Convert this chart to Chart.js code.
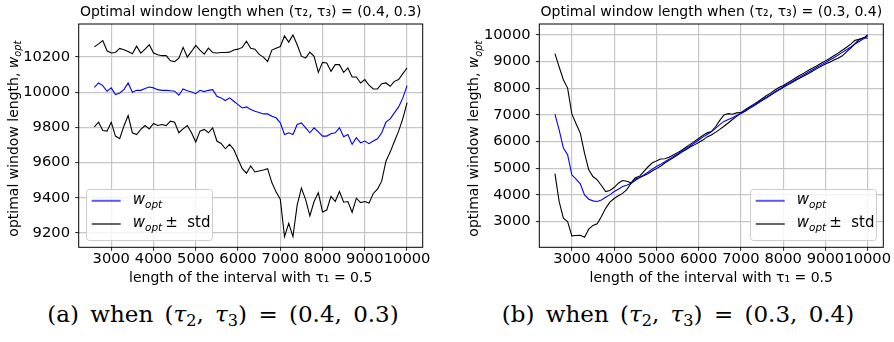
<!DOCTYPE html>
<html>
<head>
<meta charset="utf-8">
<script src="https://cdn.jsdelivr.net/npm/chart.js@4.4.0/dist/chart.umd.min.js"></script>
<style>
  body { margin: 0; background: #fff; width: 894px; height: 342px; position: relative; overflow: hidden; }
  canvas { position: absolute; top: 0; }
  #chartA { left: 0; }
  #chartB { left: 450px; }
  .cap {
    position: absolute; top: 301px; width: 440px; text-align: center; white-space: nowrap;
    font-family: "DejaVu Serif", "Liberation Serif", serif; font-size: 23px; word-spacing: 4px; color: #000;
  }
  .cap sub { font-size: 0.7em; vertical-align: -0.25em; line-height: 0; }
</style>
</head>
<body>
<canvas id="chartA" width="440" height="290" style="width:440px;height:290px"></canvas>
<canvas id="chartB" width="444" height="290" style="width:444px;height:290px"></canvas>
<div class="cap" style="left:3px">(a) when (<i>τ</i><sub>2</sub>, <i>τ</i><sub>3</sub>) = (0.4, 0.3)</div>
<div class="cap" style="left:458px">(b) when (<i>τ</i><sub>2</sub>, <i>τ</i><sub>3</sub>) = (0.3, 0.4)</div>
<script>
// interval lengths (x values)
const lengths = [
  2600, 2700, 2800, 2900, 3000, 3100, 3200, 3300, 3400, 3500, 3600, 3700, 3800, 3900, 4000,
  4100, 4200, 4300, 4400, 4500, 4600, 4700, 4800, 4900, 5000, 5100, 5200, 5300, 5400, 5500,
  5600, 5700, 5800, 5900, 6000, 6100, 6200, 6300, 6400, 6500, 6600, 6700, 6800, 6900, 7000,
  7100, 7200, 7300, 7400, 7500, 7600, 7700, 7800, 7900, 8000, 8100, 8200, 8300, 8400, 8500,
  8600, 8700, 8800, 8900, 9000, 9100, 9200, 9300, 9400, 9500, 9600, 9700, 9800, 9900, 10000
];

// (a) (tau2, tau3) = (0.4, 0.3)
const wOptA = [
  10028, 10053, 10038, 10006, 10025, 9987, 9996, 10015, 10053, 10000, 10011, 10011, 10021, 10030, 10025,
  10015, 10011, 10011, 10009, 10006, 9983, 10019, 10009, 10002, 9992, 10011, 10004, 10011, 10015, 9977,
  9968, 9953, 9968, 9949, 9930, 9911, 9917, 9902, 9892, 9885, 9877, 9877, 9864, 9855, 9826,
  9760, 9770, 9760, 9817, 9826, 9798, 9770, 9798, 9775, 9751, 9751, 9764, 9770, 9798, 9747,
  9760, 9704, 9742, 9713, 9723, 9708, 9723, 9736, 9770, 9830, 9849, 9883, 9917, 9968, 10038
];
const upperA = [
  10258, 10275, 10294, 10236, 10223, 10226, 10249, 10242, 10232, 10219, 10262, 10223, 10245, 10270, 10223,
  10213, 10208, 10208, 10179, 10174, 10194, 10255, 10200, 10232, 10266, 10240, 10217, 10251, 10226, 10223,
  10226, 10226, 10228, 10240, 10245, 10255, 10290, 10250, 10245, 10215, 10200, 10175, 10240, 10250, 10260,
  10320, 10285, 10326, 10270, 10205, 10194, 10228, 10204, 10113, 10170, 10166, 10119, 10157, 10157, 10113,
  10138, 10087, 10087, 10053, 10072, 10040, 10019, 10019, 10049, 10053, 10034, 10062, 10072, 10106, 10138
];
const lowerA = [
  9804, 9830, 9783, 9779, 9830, 9751, 9736, 9808, 9868, 9770, 9760, 9789, 9811, 9792, 9823,
  9811, 9817, 9811, 9836, 9830, 9770, 9792, 9811, 9770, 9717, 9779, 9789, 9770, 9798, 9723,
  9709, 9679, 9704, 9675, 9619, 9566, 9540, 9581, 9547, 9553, 9558, 9566, 9487, 9434, 9392,
  9180, 9255, 9180, 9360, 9455, 9390, 9297, 9379, 9430, 9320, 9331, 9408, 9379, 9436, 9375,
  9379, 9318, 9398, 9373, 9379, 9370, 9425, 9450, 9495, 9608, 9660, 9720, 9779, 9850, 9941
];

// (b) (tau2, tau3) = (0.3, 0.4)
const wOptB = [
  7034, 6446, 5757, 5507, 4756, 4593, 4418, 4005, 3842, 3780, 3755, 3817, 3917, 4005, 4130,
  4218, 4318, 4368, 4443, 4543, 4656, 4756, 4856, 4969, 5069, 5150, 5250, 5340, 5440, 5540,
  5640, 5740, 5840, 5950, 6060, 6170, 6270, 6370, 6500, 6640, 6760, 6830, 6900, 6980, 7060,
  7160, 7260, 7360, 7460, 7560, 7660, 7760, 7860, 7960, 8060, 8150, 8250, 8340, 8430, 8520,
  8610, 8700, 8790, 8880, 8970, 9060, 9150, 9250, 9350, 9450, 9550, 9660, 9760, 9860, 9950
];
const upperB = [
  9300, 8800, 8323, 8010, 7040, 6671, 6320, 5569, 4944, 4693, 4568, 4355, 4130, 4168, 4280,
  4443, 4543, 4518, 4460, 4650, 4700, 4880, 5050, 5200, 5280, 5350, 5360, 5420, 5500, 5590,
  5680, 5790, 5900, 6010, 6120, 6230, 6330, 6380, 6560, 6800, 7000, 7050, 7030, 7080, 7090,
  7200, 7300, 7400, 7500, 7610, 7720, 7820, 7930, 8030, 8110, 8200, 8300, 8400, 8490, 8580,
  8680, 8760, 8850, 8940, 9030, 9120, 9220, 9320, 9430, 9540, 9660, 9800, 9840, 9870, 10010
];
const lowerB = [
  4800, 3750, 3130, 3000, 2470, 2480, 2490, 2416, 2720, 2860, 2920, 3190, 3500, 3730, 3870,
  3970, 4060, 4200, 4430, 4600, 4650, 4720, 4800, 4900, 4990, 5080, 5200, 5300, 5400, 5500,
  5610, 5700, 5800, 5880, 5970, 6060, 6180, 6250, 6350, 6460, 6580, 6700, 6830, 6950, 7060,
  7140, 7240, 7340, 7440, 7540, 7640, 7740, 7840, 7940, 8030, 8120, 8210, 8300, 8390, 8470,
  8560, 8650, 8740, 8830, 8910, 8980, 9060, 9130, 9220, 9370, 9510, 9680, 9830, 9900, 9880
];

// tick labels
const xTicks = [3000, 4000, 5000, 6000, 7000, 8000, 9000, 10000];
const yTicksA = [9200, 9400, 9600, 9800, 10000, 10200];
const yTicksB = [3000, 4000, 5000, 6000, 7000, 8000, 9000, 10000];

const FONT = '"DejaVu Sans", "Liberation Sans", sans-serif';
Chart.defaults.font.family = FONT;
Chart.defaults.color = '#000';

// draws italic w with "opt" subscript, returns the x where it ends
function drawWopt(ctx, x, y, size) {
  ctx.font = 'italic ' + size + 'px ' + FONT;
  ctx.fillText('w', x, y);
  let w = ctx.measureText('w').width;
  ctx.font = 'italic ' + (size * 0.7) + 'px ' + FONT;
  ctx.fillText('opt', x + w, y + size * 0.25);
  return x + w + ctx.measureText('opt').width;
}

// frame, rotated y label and the matplotlib-style legend
const extras = {
  id: 'extras',
  afterDraw(chart, args, opts) {
    const ctx = chart.ctx;
    const a = chart.chartArea;
    ctx.save();

    ctx.strokeStyle = '#000';
    ctx.lineWidth = 1;
    ctx.strokeRect(a.left, a.top, a.right - a.left, a.bottom - a.top);

    // y axis label
    ctx.fillStyle = '#000';
    ctx.textBaseline = 'alphabetic';
    ctx.save();
    ctx.translate(a.left - 66, (a.top + a.bottom) / 2 + 3);
    ctx.rotate(-Math.PI / 2);
    const plain = 'optimal window length, ';
    ctx.font = '14px ' + FONT;
    const pw = ctx.measureText(plain).width;
    ctx.font = 'italic 14px ' + FONT;
    const ww = ctx.measureText('w').width;
    ctx.font = 'italic 9.8px ' + FONT;
    const ow = ctx.measureText('opt').width;
    let sx = -(pw + ww + ow) / 2;
    ctx.font = '14px ' + FONT;
    ctx.fillText(plain, sx, 5);
    drawWopt(ctx, sx + pw, 5, 14);
    ctx.restore();

    // legend
    const bw = 126, bh = 51;
    const bx = opts.side === 'left' ? a.left + 7.3 : a.right - 7.3 - bw;
    const by = a.bottom - 7.3 - bh;
    ctx.beginPath();
    ctx.roundRect(bx + 0.5, by + 0.5, bw, bh, 3);
    ctx.fillStyle = 'rgba(255,255,255,0.8)';
    ctx.fill();
    ctx.strokeStyle = '#cccccc';
    ctx.stroke();

    const rows = [
      { color: '#0000ff', y: by + 11.8, pm: false },
      { color: '#000000', y: by + 35, pm: true }
    ];
    rows.forEach(r => {
      ctx.beginPath();
      ctx.strokeStyle = r.color;
      ctx.globalAlpha = r.pm ? 1 : 0.65;
      ctx.lineWidth = r.pm ? 1.2 : 2;
      ctx.moveTo(bx + 5.7, r.y);
      ctx.lineTo(bx + 34.7, r.y);
      ctx.stroke();
      ctx.globalAlpha = 1;
      ctx.fillStyle = '#000';
      let ex = drawWopt(ctx, bx + 46.7, r.y + 3, 15);
      if (r.pm) {
        ctx.font = '15px ' + FONT;
        ctx.fillText('±  std', ex + 3, r.y + 3);
      }
    });
    ctx.restore();
  }
};

function makeChart(id, title, wOpt, upper, lower, yMin, yMax, yTicks, axisWidth, rightPad, side) {
  const line = (data, color) => ({
    data: data,
    borderColor: color,
    borderWidth: 1.1,
    pointRadius: 0,
    fill: false,
    tension: 0
  });
  return new Chart(document.getElementById(id).getContext('2d'), {
    type: 'line',
    data: {
      labels: lengths,
      datasets: [line(wOpt, '#0000ff'), line(upper, '#000000'), line(lower, '#000000')]
    },
    options: {
      responsive: false,
      animation: false,
      events: [],
      layout: { padding: { left: 0, right: rightPad, top: 0, bottom: 0 } },
      plugins: {
        legend: { display: false },
        tooltip: { enabled: false },
        title: {
          display: true,
          text: title,
          fullSize: false,
          color: '#000',
          font: { size: 14, weight: 'normal' },
          padding: { top: 4, bottom: 3.2 }
        },
        extras: { side: side }
      },
      scales: {
        x: {
          type: 'linear',
          min: 2230,
          max: 10370,
          afterBuildTicks: s => { s.ticks = xTicks.map(v => ({ value: v })); },
          afterFit: s => { s.height = 42.7; },
          border: { display: false },
          grid: { color: '#c6c6c6', lineWidth: 1.2, tickColor: '#222', tickLength: 3.5, tickWidth: 1 },
          ticks: { font: { size: 14.7 }, padding: 0, maxRotation: 0, autoSkip: false, callback: v => String(v) },
          title: {
            display: true,
            text: 'length of the interval with τ₁ = 0.5',
            font: { size: 14 },
            padding: { top: 0, bottom: 3.6 }
          }
        },
        y: {
          min: yMin,
          max: yMax,
          afterBuildTicks: s => { s.ticks = yTicks.map(v => ({ value: v })); },
          afterFit: s => { s.width = axisWidth; },
          border: { display: false },
          grid: { color: '#c6c6c6', lineWidth: 1.2, tickColor: '#222', tickLength: 3.5, tickWidth: 1 },
          ticks: { font: { size: 14.7 }, padding: 5.2, autoSkip: false, callback: v => String(v) }
        }
      }
    },
    plugins: [extras]
  });
}

makeChart('chartA', 'Optimal window length when (τ₂, τ₃) = (0.4, 0.3)',
  wOptA, upperA, lowerA, 9119, 10388, yTicksA, 78.7, 17.3, 'left');
makeChart('chartB', 'Optimal window length when (τ₂, τ₃) = (0.3, 0.4)',
  wOptB, upperB, lowerB, 2039, 10413, yTicksB, 89.3, 10.7, 'right');
</script>
</body>
</html>
